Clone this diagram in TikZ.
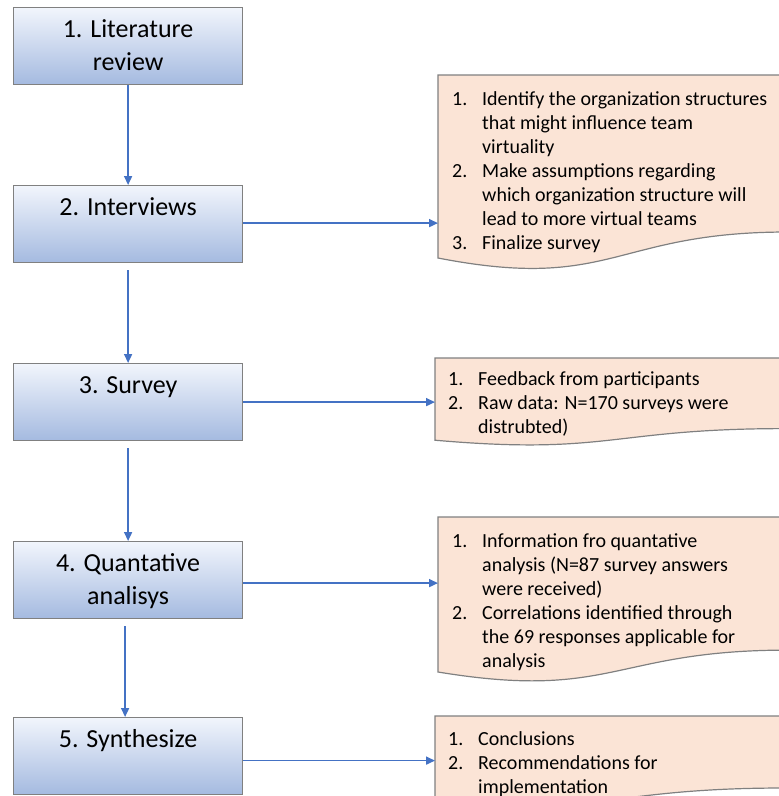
\documentclass[tikz,border=0pt]{standalone}
\usepackage{fontspec}
\setmainfont{Carlito}
\usetikzlibrary{arrows.meta,calc}
\definecolor{boxtop}{HTML}{F1F5FC}
\definecolor{boxbot}{HTML}{A4BAE0}
\definecolor{docfill}{HTML}{FBE4D6}
\definecolor{edgegray}{HTML}{808080}
\definecolor{arrowblue}{HTML}{4472C4}
\begin{document}
\begin{tikzpicture}[x=1pt,y=-1pt,
  stepbox/.style={draw=edgegray, line width=1.2pt, top color=boxtop, bottom color=boxbot,
    minimum width=229pt, minimum height=77pt, inner sep=0pt, anchor=north west},
  steptext/.style={anchor=base, inner sep=0pt, font=\fontsize{26}{33}\selectfont},
  docshape/.style={draw=edgegray, line width=1.2pt, fill=docfill},
  doctext/.style={anchor=base west, inner sep=0pt, font=\fontsize{20}{24}\selectfont},
  flow/.style={draw=arrowblue, line width=1.6pt, -{Triangle[length=9pt,width=8pt]}}]
\useasboundingbox (0,0) rectangle (779,796);
\clip (0,0) rectangle (779,796);

% step boxes
\node[stepbox] (b1) at (13,7) {};
\node[stepbox] (b2) at (13,185) {};
\node[stepbox] (b3) at (13,363) {};
\node[stepbox] (b4) at (13,541) {};
\node[stepbox] (b5) at (13,717) {};

\node[steptext] (t1) at ($(b1.north)+(0,30)$) {\begin{tabular}[t]{@{}c@{}}1. Literature\\review\end{tabular}};
\node[steptext] (t2) at ($(b2.north)+(0,30)$) {2. Interviews};
\node[steptext] (t3) at ($(b3.north)+(0,30)$) {3. Survey};
\node[steptext] (t4) at ($(b4.north)+(0,30)$) {\begin{tabular}[t]{@{}c@{}}4. Quantative\\analisys\end{tabular}};
\node[steptext] (t5) at ($(b5.north)+(0,30)$) {5. Synthesize};

% document shapes
\coordinate (d1w) at (438,75);
\coordinate (d2w) at (435,358);
\coordinate (d3w) at (438,517);
\coordinate (d5w) at (435,716);
\path[docshape] (438,75) -- (788,75) -- (788,232) .. controls (613,232) and (613,292) .. (438,258) -- cycle;
\path[docshape] (435,358) -- (785,358) -- (785,428.6) .. controls (610,428.6) and (610,455.5) .. (435,440.2) -- cycle;
\path[docshape] (438,517) -- (788,517) -- (788,650.1) .. controls (613,650.1) and (613,700.8) .. (438,672) -- cycle;
\path[docshape] (435,716) -- (785,716) -- (785,788) .. controls (610,788) and (610,815.7) .. (435,800) -- cycle;

\node[doctext] (x1) at (452,105) {\begin{tabular}[t]{@{}p{30pt}@{}l@{}}
1. & Identify the organization structures\\
   & that might influence team\\
   & virtuality\\
2. & Make assumptions regarding\\
   & which organization structure will\\
   & lead to more virtual teams\\
3. & Finalize survey
\end{tabular}};
\node[doctext] (x2) at (448,385) {\begin{tabular}[t]{@{}p{30pt}@{}l@{}}
1. & Feedback from participants\\
2. & Raw data: N=170 surveys were\\
   & distrubted)
\end{tabular}};
\node[doctext] (x3) at (452,547) {\begin{tabular}[t]{@{}p{30pt}@{}l@{}}
1. & Information fro quantative\\
   & analysis (N=87 survey answers\\
   & were received)\\
2. & Correlations identified through\\
   & the 69 responses applicable for\\
   & analysis
\end{tabular}};
\node[doctext] (x5) at (448,745) {\begin{tabular}[t]{@{}p{30pt}@{}l@{}}
1. & Conclusions\\
2. & Recommendations for\\
   & implementation
\end{tabular}};

% connectors
\draw[flow] (b1.south) -- (b2.north);
\draw[flow, shorten <=7pt] (b2.south) -- (b3.north);
\draw[flow, shorten <=7pt] (b3.south) -- (b4.north);
\draw[flow, shorten <=7pt] ($(b4.south)+(-3,0)$) -- ($(b5.north)+(-3,0)$);
\draw[flow] ($(b2.east)+(0,-1)$) -- ($(b2.east -| d1w)+(0,-1)$);
\draw[flow] (b3.east) -- (b3.east -| d2w);
\draw[flow] ($(b4.east)+(0,3)$) -- ($(b4.east -| d3w)+(0,3)$);
\draw[flow] ($(b5.east)+(0,4.5)$) -- ($(b5.east -| d5w)+(0,4.5)$);
\end{tikzpicture}
\end{document}
